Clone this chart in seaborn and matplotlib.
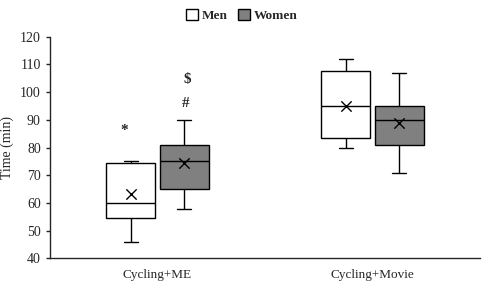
import numpy as np
import pandas as pd
import matplotlib
matplotlib.use("Agg")
import matplotlib.pyplot as plt
import seaborn as sns
from matplotlib.patches import Patch

conditions = ["Cycling+ME", "Cycling+Movie"]
sexes = ["Men", "Women"]

# five-number summaries (min, q1, median, q3, max)
men_me = [46, 54.5, 60, 74.5, 75]
women_me = [58, 65, 75, 81, 90]
men_movie = [80, 83.5, 95, 107.5, 112]
women_movie = [71, 81, 90, 95, 107]

means_men = [63.3, 95.0]
means_women = [74.5, 88.7]

rows = []
for cond, sex, vals in [("Cycling+ME", "Men", men_me), ("Cycling+ME", "Women", women_me),
                        ("Cycling+Movie", "Men", men_movie), ("Cycling+Movie", "Women", women_movie)]:
    for v in vals:
        rows.append({"condition": cond, "sex": sex, "time": v})
df = pd.DataFrame(rows)

sns.set_style("ticks")
plt.rcParams["font.family"] = ["Liberation Serif", "DejaVu Serif"]

fig = plt.figure(figsize=(4.84, 2.83), dpi=100)
ax = fig.add_axes([0.103, 0.087, 0.889, 0.783])

sns.boxplot(data=df, x="condition", y="time", hue="sex", order=conditions, hue_order=sexes,
            palette={"Men": "white", "Women": "#808080"}, linecolor="black", linewidth=1,
            whis=np.inf, width=0.5, gap=0.1, legend=False, ax=ax, capwidths=0.065)

# mean markers
offs = {"Men": -0.125, "Women": 0.125}
for sex, means in [("Men", means_men), ("Women", means_women)]:
    xs = np.arange(len(conditions)) + offs[sex]
    ax.scatter(xs, means, marker="x", s=55, color="black", linewidths=1, zorder=5)

# significance symbols
ax.text(-0.155, 86, "*", ha="center", va="center", fontsize=11, fontweight="bold")
ax.text(0.13, 96, "#", ha="center", va="center", fontsize=11, fontweight="bold")
ax.text(0.14, 104.5, "$", ha="center", va="center", fontsize=11, fontweight="bold")

ax.set_xlim(-0.5, 1.5)
ax.set_ylim(40, 120)
ax.set_yticks(range(40, 121, 10))
ax.set_xlabel("")
ax.set_ylabel("Time (min)", fontsize=10)
ax.tick_params(axis="y", labelsize=10, length=3, width=1)
ax.tick_params(axis="x", labelsize=9.5, length=0, pad=8)
for s in ["left", "bottom"]:
    ax.spines[s].set_linewidth(1)
sns.despine(ax=ax)

handles = [Patch(facecolor="white", edgecolor="black", label="Men"),
           Patch(facecolor="#808080", edgecolor="black", label="Women")]
leg = fig.legend(handles=handles, loc="upper center", bbox_to_anchor=(0.5, 1.01), ncol=2,
                 frameon=False, fontsize=9.5, handlelength=0.9, handleheight=0.9,
                 handletextpad=0.3, columnspacing=0.8)
for t in leg.get_texts():
    t.set_fontweight("bold")

fig.savefig("out.png", dpi=100)
